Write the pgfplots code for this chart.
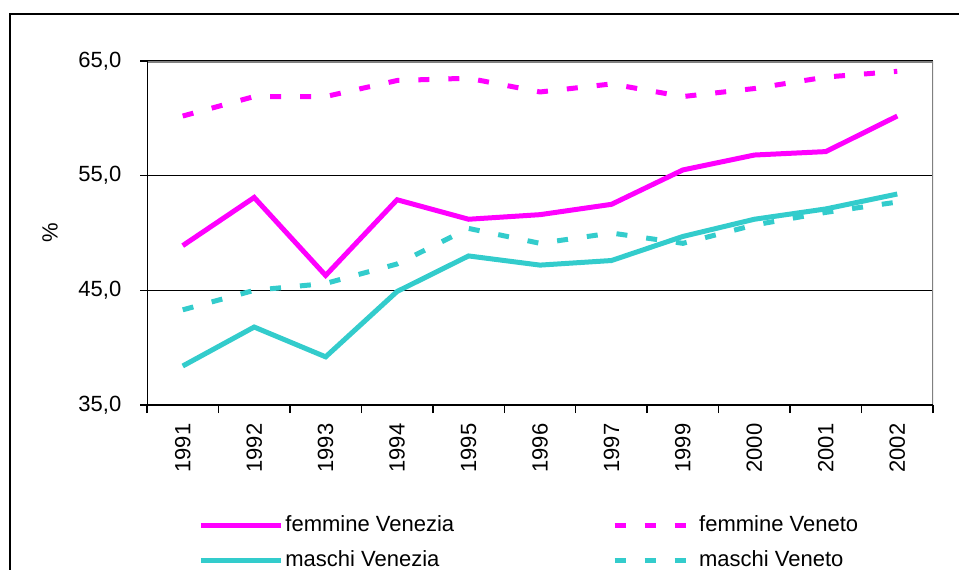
\documentclass[border=0pt]{standalone}
\usepackage{fontspec}
\setmainfont{Liberation Sans}
\usepackage{pgfplots}
\pgfplotsset{compat=1.18}
\definecolor{mag}{RGB}{255,0,255}
\definecolor{tq}{RGB}{51,204,204}
\definecolor{framegray}{RGB}{128,128,128}
\begin{document}
\fontsize{11}{13}\selectfont
\begin{tikzpicture}
\useasboundingbox (0,0) rectangle (479.5pt,284.5pt);
\draw[line width=0.9pt] (5pt,-5pt) -- (5pt,277.5pt) -- (495pt,277.5pt);
\begin{axis}[
  at={(73.5pt,82pt)}, anchor=south west,
  width=393pt, height=172pt, scale only axis,
  xmin=-0.5, xmax=10.5, ymin=35, ymax=65,
  ytick={35,45,55,65},
  xtick={0,...,10},
  xticklabels={1991,1992,1993,1994,1995,1996,1997,1999,2000,2001,2002},
  minor xtick={-0.5,0.5,...,10.5},
  tick pos=left,
  tick align=outside,
  major tick length=3.5pt,
  minor tick length=4pt,
  major x tick style={draw=none},
  minor x tick style={black, line width=0.7pt},
  ytick style={black, line width=0.7pt},
  axis line style={draw=none},
  ymajorgrids,
  grid style={black, line width=0.6pt},
  tick label style={font=\fontsize{11}{13}\selectfont},
  /pgf/number format/assume math mode=true,
  /pgf/number format/.cd, fixed, fixed zerofill, precision=1, use comma,
  /pgfplots/.cd,
  yticklabel style={xshift=-5.5pt},
  xticklabel style={rotate=90, anchor=east, yshift=0pt, xshift=-2pt},
  ylabel={\%},
  ylabel style={at={(axis description cs:-0.1234,0.5)}, anchor=center, font=\fontsize{11}{13}\selectfont},
  legend columns=2,
  legend cell align=left,
  legend image code/.code={\draw[#1, line width=2.5pt] (0pt,0pt) -- (40pt,0pt);},
  legend style={at={(axis description cs:0.0649,-0.32)}, anchor=north west,
    draw=none, fill=none, inner sep=0pt, row sep=7pt,
    font=\fontsize{11}{13}\selectfont,
    nodes={inner xsep=1pt, inner ysep=0pt, text height=8pt, text depth=2.5pt},
    /tikz/every even column/.append style={column sep=78pt}},
]
\draw[framegray, line width=1.5pt] (rel axis cs:0,1) -- (rel axis cs:1,1) -- (rel axis cs:1,0);
\draw[black, line width=0.8pt] (rel axis cs:0,1) -- (rel axis cs:0,0) -- (rel axis cs:1,0);
\addplot[mag, line width=2.5pt, line join=miter] coordinates {
(0,48.9) (1,53.1) (2,46.3) (3,52.9) (4,51.2) (5,51.6) (6,52.5) (7,55.5) (8,56.8) (9,57.1) (10,60.2)};
\addlegendentry{femmine Venezia}
\addplot[mag, line width=2.5pt, line cap=butt, dash pattern=on 5.5pt off 9.5pt] coordinates {
(0,60.2) (1,61.9) (2,61.9) (3,63.3) (4,63.5) (5,62.3) (6,63.0) (7,61.9) (8,62.6) (9,63.6) (10,64.1)};
\addlegendentry{femmine Veneto}
\addplot[tq, line width=2.5pt, line join=miter] coordinates {
(0,38.4) (1,41.8) (2,39.2) (3,44.9) (4,48.0) (5,47.2) (6,47.6) (7,49.7) (8,51.2) (9,52.1) (10,53.4)};
\addlegendentry{maschi Venezia}
\addplot[tq, line width=2.5pt, line cap=butt, dash pattern=on 5.5pt off 9.5pt] coordinates {
(0,43.3) (1,45.0) (2,45.6) (3,47.3) (4,50.4) (5,49.1) (6,50.0) (7,49.1) (8,50.7) (9,51.8) (10,52.7)};
\addlegendentry{maschi Veneto}
\end{axis}
\end{tikzpicture}
\end{document}
